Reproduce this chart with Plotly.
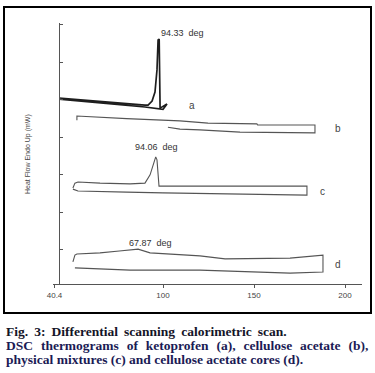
import plotly.graph_objects as go

# ---- data (temperature in chart units, heat flow in arbitrary tick units) ----
a_T = [42.9, 60.0, 75.0, 90.1, 91.8, 94.0, 95.6, 96.7, 97.3, 97.9, 98.4, 102.2, 100.0, 90.1, 75.0, 60.0, 42.9]
a_H = [5.04, 4.98, 4.91, 4.85, 4.85, 4.96, 5.20, 5.79, 6.59, 6.61, 4.77, 4.88, 4.74, 4.80, 4.87, 4.94, 5.01]

b_T = [52.7, 52.7, 80.0, 109.3, 124.7, 151.6, 152.0, 183.5, 183.5, 142.3, 120.3, 109.3, 102.7]
b_H = [4.45, 4.56, 4.49, 4.43, 4.37, 4.35, 4.32, 4.32, 4.11, 4.13, 4.19, 4.21, 4.26]

c_T = [50.5, 51.6, 53.3, 65.4, 81.9, 90.1, 92.9, 94.5, 96.0, 96.7, 97.3, 97.8, 120.0, 179.1, 179.1, 120.0, 100.0, 80.0, 53.3, 50.5]
c_H = [2.64, 2.77, 2.80, 2.77, 2.75, 2.77, 2.99, 3.25, 3.47, 3.39, 2.99, 2.69, 2.69, 2.69, 2.45, 2.48, 2.51, 2.53, 2.56, 2.61]

d_T = [50.5, 51.6, 52.7, 65.4, 76.0, 86.3, 92.9, 120.3, 134.1, 169.8, 187.9, 187.9, 169.8, 147.8, 120.3, 81.9, 51.6]
d_H = [0.67, 0.85, 0.88, 0.91, 0.96, 1.01, 0.91, 0.83, 0.75, 0.77, 0.85, 0.40, 0.37, 0.40, 0.45, 0.45, 0.51]

curve_labels = ["a", "b", "c", "d"]
curve_label_T = [116.0, 196.2, 187.9, 196.2]
curve_label_H = [4.85, 4.24, 2.56, 0.59]

peak_labels = ["94.33  deg", "94.06  deg", "67.87  deg"]
peak_label_T = [110.9, 96.7, 92.9]
peak_label_H = [6.77, 3.73, 1.17]

x_tick_vals = [40.4, 100, 150, 200]
x_tick_text = ["40.4", "100", "150", "200"]
y_tick_vals = [1, 2, 3, 4, 5, 6, 7]

caption = [
    "Fig. 3: Differential scanning calorimetric scan.",
    "DSC thermograms of ketoprofen (a), cellulose acetate (b),",
    "physical mixtures (c) and cellulose acetate cores (d).",
]
# extra word spacing per caption line (justified typesetting)
caption_gap = [" \u2009", " \u00a0\u200a", " "]

# ---- figure ----
L, R, T, B = 53, 13, 23, 89
W, H = 375, 373
pw, ph = W - L - R, H - T - B


def px(x):
    return (x - L) / pw


def py(y):
    return (H - B - y) / ph


fig = go.Figure()
fig.add_trace(go.Scatter(x=a_T, y=a_H, mode="lines", line=dict(color="#1e1e1e", width=1.7), hoverinfo="skip"))
fig.add_trace(go.Scatter(x=b_T, y=b_H, mode="lines", line=dict(color="#555555", width=1.1), hoverinfo="skip"))
fig.add_trace(go.Scatter(x=c_T, y=c_H, mode="lines", line=dict(color="#555555", width=1.1), hoverinfo="skip"))
fig.add_trace(go.Scatter(x=d_T, y=d_H, mode="lines", line=dict(color="#555555", width=1.1), hoverinfo="skip"))

for t, xv, yv in zip(curve_labels, curve_label_T, curve_label_H):
    fig.add_annotation(x=xv, y=yv, text=t, showarrow=False,
                       font=dict(family="Arial, Liberation Sans", size=10, color="#444444"))
for t, xv, yv in zip(peak_labels, peak_label_T, peak_label_H):
    fig.add_annotation(x=xv, y=yv, text=t, showarrow=False,
                       font=dict(family="Arial, Liberation Sans", size=9, color="#333333"))

fig.add_annotation(x=px(22), y=py(154), xref="paper", yref="paper", text="Heat Flow Endo Up (mW)",
                   textangle=-90, showarrow=False,
                   font=dict(family="Arial, Liberation Sans", size=7, color="#444444"))

cap_colors = ["#141428", "#1b1b55", "#1b1b55"]
for i, (line, cy) in enumerate(zip(caption, [331, 345, 359])):
    txt = caption_gap[i].join(line.split(" "))
    fig.add_annotation(x=px(4), y=py(cy), xref="paper", yref="paper", text="<b>" + txt + "</b>",
                       xanchor="left", yanchor="middle", showarrow=False,
                       font=dict(family="Liberation Serif, Times New Roman", size=13.5, color=cap_colors[i]))

# chart border
fig.add_shape(type="rect", xref="paper", yref="paper", x0=px(4), x1=px(371), y0=py(313), y1=py(7),
              line=dict(color="black", width=2))

fig.update_layout(
    width=W, height=H, margin=dict(l=L, r=R, t=T, b=B, autoexpand=False),
    paper_bgcolor="white", plot_bgcolor="white", showlegend=False,
    xaxis=dict(range=[39.56, 209.34], showgrid=False, zeroline=False, showline=True,
               linecolor="#555555", linewidth=1.2, ticks="outside", ticklen=3, tickcolor="#555555",
               tickvals=x_tick_vals, ticktext=x_tick_text,
               tickfont=dict(family="Arial, Liberation Sans", size=8, color="#444444"),
               anchor="y", fixedrange=True, automargin=False),
    yaxis=dict(range=[0.08, 7.04], showgrid=False, zeroline=False, showline=True,
               linecolor="#555555", linewidth=1.2, ticks="inside", ticklen=3, tickcolor="#555555",
               tickvals=y_tick_vals, showticklabels=False, anchor="free", position=px(59),
               fixedrange=True, automargin=False),
)

fig.write_html("out.html", config={"displayModeBar": False},
               post_script="document.body.style.margin='0';document.body.style.padding='0';")
